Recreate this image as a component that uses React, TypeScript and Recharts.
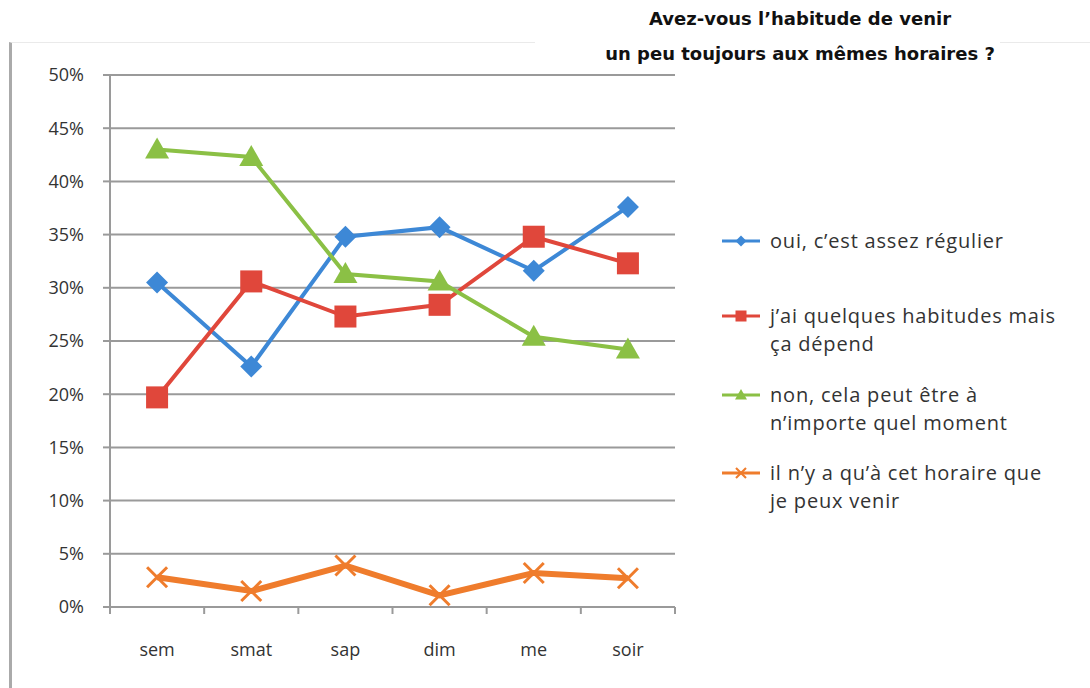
import { LineChart, Line, XAxis, YAxis, CartesianGrid } from 'recharts';

const categories = ['sem', 'smat', 'sap', 'dim', 'me', 'soir'];
const oui = [30.5, 22.6, 34.8, 35.7, 31.6, 37.6];
const quelques = [19.7, 30.6, 27.3, 28.4, 34.8, 32.3];
const non = [43.0, 42.3, 31.3, 30.6, 25.4, 24.2];
const horaire = [2.8, 1.5, 3.9, 1.1, 3.2, 2.7];
const yTicks = [0, 5, 10, 15, 20, 25, 30, 35, 40, 45, 50];

const series = [
  { key: 'oui', name: 'oui, c\u2019est assez régulier', color: '#3d88d6', shape: 'diamond', width: 4, values: oui },
  { key: 'quelques', name: 'j\u2019ai quelques habitudes mais ça dépend', color: '#e0473b', shape: 'square', width: 4, values: quelques },
  { key: 'non', name: 'non, cela peut être à n\u2019importe quel moment', color: '#8bc045', shape: 'triangle', width: 4, values: non },
  { key: 'horaire', name: 'il n\u2019y a qu\u2019à cet horaire que je peux venir', color: '#ef7c2c', shape: 'cross', width: 6, values: horaire },
];

const data = categories.map((c, i) => {
  const row: Record<string, string | number> = { cat: c };
  series.forEach((s) => { row[s.key] = s.values[i]; });
  return row;
});

const FONT = '"Open Sans", sans-serif';
const GRID = '#9a9a9a';
const BAND = 565 / 6;

function Marker({ shape, color, cx, cy, s = 1 }: { shape: string; color: string; cx: number; cy: number; s?: number }) {
  if (shape === 'diamond') {
    const r = 11 * s;
    return <path d={`M${cx},${cy - r}L${cx + r},${cy}L${cx},${cy + r}L${cx - r},${cy}Z`} fill={color} />;
  }
  if (shape === 'square') {
    const r = 11 * s;
    return <rect x={cx - r} y={cy - r} width={2 * r} height={2 * r} fill={color} />;
  }
  if (shape === 'triangle') {
    const r = 12 * s;
    return <path d={`M${cx},${cy - r}L${cx + r * 1.0},${cy + r * 0.75}L${cx - r * 1.0},${cy + r * 0.75}Z`} fill={color} />;
  }
  const r = 10 * s;
  return (
    <path d={`M${cx - r},${cy - r}L${cx + r},${cy + r}M${cx + r},${cy - r}L${cx - r},${cy + r}`}
      stroke={color} strokeWidth={3 * Math.max(s, 0.7)} fill="none" />
  );
}

const dotFor = (shape: string, color: string) => (props: any) => (
  <Marker key={`${shape}-${props.index}`} shape={shape} color={color} cx={props.cx} cy={props.cy} />
);

function XTick(props: any) {
  const { x, y, payload, index } = props;
  return (
    <g>
      <line x1={x - BAND / 2} x2={x - BAND / 2} y1={y} y2={y + 7} stroke={GRID} strokeWidth={2} />
      {index === categories.length - 1 && (
        <line x1={x + BAND / 2} x2={x + BAND / 2} y1={y} y2={y + 7} stroke={GRID} strokeWidth={2} />
      )}
      <text x={x} y={y + 49} textAnchor="middle" fontFamily={FONT} fontSize={18} fill="#333">
        {payload.value}
      </text>
    </g>
  );
}

function LegendBox() {
  const heights = [75, 79, 78, 56];
  const lines = [
    ['oui, c\u2019est assez régulier'],
    ['j\u2019ai quelques habitudes mais', 'ça dépend'],
    ['non, cela peut être à', 'n\u2019importe quel moment'],
    ['il n\u2019y a qu\u2019à cet horaire que', 'je peux venir'],
  ];
  return (
    <div style={{ position: 'absolute', left: 720, top: 227, fontFamily: FONT, fontSize: 20, letterSpacing: 0.8, color: '#333' }}>
      {series.map((s, i) => (
        <div key={s.key} style={{ height: heights[i], display: 'flex' }}>
          <svg width={42} height={28} style={{ flexShrink: 0 }}>
            <line x1={2} x2={40} y1={14} y2={14} stroke={s.color} strokeWidth={3} />
            <Marker shape={s.shape} color={s.color} cx={21} cy={14} s={0.5} />
          </svg>
          <div style={{ marginLeft: 8, lineHeight: '28px', whiteSpace: 'nowrap' }}>
            {lines[i].map((t) => <div key={t}>{t}</div>)}
          </div>
        </div>
      ))}
    </div>
  );
}

export default function App() {
  return (
    <div style={{ position: 'absolute', left: 0, top: 0, width: 1090, height: 688, background: '#fff', overflow: 'hidden' }}>
      <div style={{ position: 'absolute', left: 9, top: 42, width: 1081, height: 646, borderLeft: '3px solid #aaa', borderTop: '1px solid #eaeaea' }} />
      <div style={{ position: 'absolute', left: 0, top: 0 }}>
        <LineChart width={1090} height={688} data={data} margin={{ top: 75, right: 415, bottom: 0, left: 0 }}>
          <CartesianGrid vertical={false} stroke={GRID} strokeWidth={2} />
          <XAxis dataKey="cat" scale="band" height={81} axisLine={{ stroke: GRID, strokeWidth: 2 }}
            tickLine={false} tickSize={0} tickMargin={0} tick={<XTick />} interval={0} />
          <YAxis width={110} domain={[0, 50]} ticks={yTicks} tickFormatter={(v) => `${v}%`}
            axisLine={{ stroke: GRID, strokeWidth: 2 }} tickLine={{ stroke: GRID, strokeWidth: 2 }}
            tickSize={7} tickMargin={19} tick={{ fontFamily: FONT, fontSize: 18, fill: '#333' }} />
          {series.map((s) => (
            <Line key={s.key} dataKey={s.key} name={s.name} stroke={s.color} strokeWidth={s.width}
              dot={dotFor(s.shape, s.color)} activeDot={false} isAnimationActive={false} />
          ))}
        </LineChart>
      </div>
      <div style={{ position: 'absolute', left: 535, top: 0, width: 465, height: 72, background: '#fff' }} />
      <div style={{ position: 'absolute', left: 560, top: 0, width: 480, fontFamily: '"DejaVu Sans", sans-serif',
        fontWeight: 700, fontSize: 18, color: '#111', textAlign: 'center', lineHeight: '35px', paddingTop: 1 }}>
        <div>Avez-vous l’habitude de venir</div>
        <div>un peu toujours aux mêmes horaires ?</div>
      </div>
      <LegendBox />
    </div>
  );
}
